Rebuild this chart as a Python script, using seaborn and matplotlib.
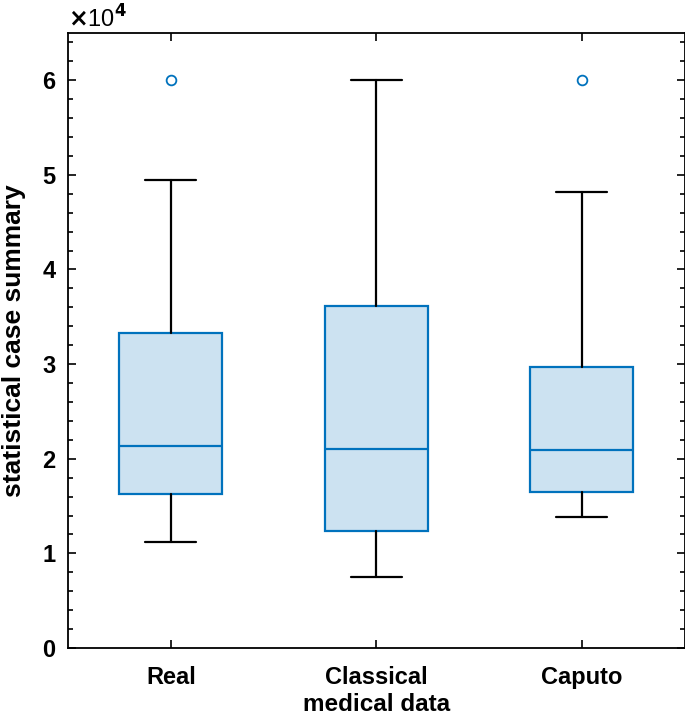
import matplotlib
matplotlib.use("Agg")
import matplotlib.pyplot as plt
import matplotlib.ticker as mticker
import seaborn as sns

# five-number summaries
groups = ["Real", "Classical", "Caputo"]
whisker_low = [11220, 7510, 13860]
q1 = [16300, 12380, 16510]
median = [21380, 21060, 20950]
q3 = [33330, 36190, 29740]
whisker_high = [49420, 60000, 48150]
outliers = [[60000], [], [60000]]

sns.set_theme(style="ticks")
plt.rcParams["font.family"] = ["Liberation Sans", "DejaVu Sans"]
plt.rcParams["font.weight"] = "bold"
plt.rcParams["text.color"] = "black"
plt.rcParams["axes.labelcolor"] = "black"

blue = "#0072BD"

fig = plt.figure(figsize=(6.85, 7.16), dpi=100)
ax = fig.add_axes([0.0993, 0.095, 0.9, 0.859])

stats = []
for i, name in enumerate(groups):
    stats.append(dict(label=name, whislo=whisker_low[i], q1=q1[i], med=median[i],
                      q3=q3[i], whishi=whisker_high[i], fliers=outliers[i]))

ax.bxp(stats, positions=[1, 2, 3], widths=0.5, patch_artist=True,
       boxprops=dict(facecolor="#cce2f1", edgecolor=blue, linewidth=1.6),
       medianprops=dict(color=blue, linewidth=1.6),
       whiskerprops=dict(color="black", linewidth=1.6),
       capprops=dict(color="black", linewidth=1.6),
       capwidths=0.25,
       flierprops=dict(marker="o", markerfacecolor="none", markeredgecolor=blue,
                       markersize=7, markeredgewidth=1.3))

ax.set_xlim(0.5, 3.5)
ax.set_ylim(0, 65000)
ax.set_yticks([0, 10000, 20000, 30000, 40000, 50000, 60000])
ax.yaxis.set_minor_locator(mticker.MultipleLocator(2000))
ax.yaxis.set_major_formatter(mticker.FuncFormatter(lambda v, p: "%d" % round(v / 1e4)))
ax.set_xticks([1, 2, 3])
ax.set_xticklabels(groups)

for s in ax.spines.values():
    s.set_visible(True)
    s.set_color("black")
    s.set_linewidth(1.3)
ax.tick_params(which="both", direction="in", top=True, right=True, width=1.2,
               labelsize=17, colors="black")
ax.tick_params(axis="x", pad=13)
ax.tick_params(axis="y", pad=9)
ax.tick_params(which="major", length=6)
ax.tick_params(which="minor", length=3.5)
for lbl in ax.get_xticklabels() + ax.get_yticklabels():
    lbl.set_fontweight("bold")

ax.set_xlabel("medical data", fontsize=17.5, fontweight="bold", labelpad=2.5)
ax.set_ylabel("statistical case summary", fontsize=19, fontweight="bold", labelpad=12)
ax.text(0.0, 1.009, r"$\times$10$^{4}$", transform=ax.transAxes,
        fontsize=17, ha="left", va="baseline", fontweight="normal")

fig.savefig("out.png", dpi=100, facecolor="white")
